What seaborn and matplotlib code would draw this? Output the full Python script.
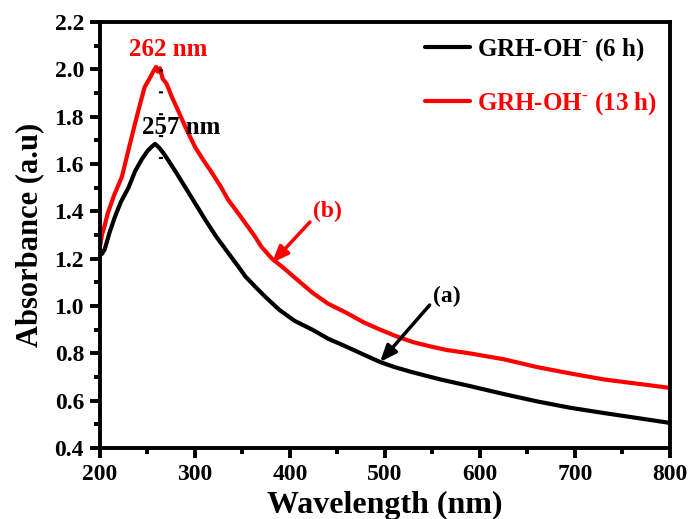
import numpy as np
import pandas as pd
import matplotlib
matplotlib.use("Agg")
import matplotlib.pyplot as plt
from matplotlib.ticker import MultipleLocator
import seaborn as sns

# UV-vis absorbance spectra (wavelength in nm)
wl_6h = [200, 202, 205, 210, 216, 222, 230, 237, 244, 250, 255, 258, 262, 267,
         272, 280, 290, 300, 311, 322, 335, 345, 353, 365, 375, 389, 405, 424,
         440, 460, 480, 495, 510, 529, 558, 589, 625, 660, 695, 730, 765, 800]
abs_6h = [1.24, 1.22, 1.24, 1.31, 1.38, 1.44, 1.50, 1.57, 1.62, 1.655, 1.675, 1.685,
          1.67, 1.645, 1.615, 1.565, 1.50, 1.435, 1.363, 1.295, 1.224, 1.17, 1.125,
          1.075, 1.035, 0.983, 0.937, 0.899, 0.862, 0.827, 0.79, 0.763, 0.742, 0.72,
          0.69, 0.662, 0.628, 0.597, 0.57, 0.548, 0.527, 0.506]

wl_13h = [200, 202, 205, 208, 215, 223, 230, 237, 242, 247, 252, 256, 259, 261,
          263, 266, 270, 276, 282, 290, 300, 309, 318, 327, 335, 344, 353, 362,
          370, 381, 392, 405, 424, 440, 460, 478, 495, 512, 529, 547, 565, 589,
          625, 660, 695, 730, 765, 800]
abs_13h = [1.25, 1.30, 1.34, 1.39, 1.47, 1.545, 1.66, 1.773, 1.85, 1.925, 1.96, 1.99,
           2.01, 1.99, 2.005, 1.96, 1.94, 1.88, 1.828, 1.755, 1.672, 1.615, 1.562,
           1.505, 1.448, 1.40, 1.35, 1.30, 1.25, 1.20, 1.165, 1.12, 1.055, 1.01,
           0.97, 0.93, 0.90, 0.872, 0.848, 0.83, 0.814, 0.80, 0.775, 0.742, 0.715,
           0.69, 0.672, 0.654]

label_6h = r"GRH-OH$^{\text{-}}$ (6 h)"
label_13h = r"GRH-OH$^{\text{-}}$ (13 h)"
x_ticks = [200, 300, 400, 500, 600, 700, 800]
y_ticks = [0.4, 0.6, 0.8, 1.0, 1.2, 1.4, 1.6, 1.8, 2.0, 2.2]

sns.set_style("ticks")
plt.rcParams["font.family"] = ["Liberation Serif", "DejaVu Serif"]
plt.rcParams["font.weight"] = "bold"
plt.rcParams["mathtext.fontset"] = "custom"
plt.rcParams["mathtext.rm"] = "Liberation Serif:bold"
plt.rcParams["mathtext.bf"] = "Liberation Serif:bold"
for key in ["text.color", "axes.labelcolor", "xtick.color", "ytick.color",
            "axes.edgecolor"]:
    plt.rcParams[key] = "black"

df = pd.concat([
    pd.DataFrame({"Wavelength": wl_6h, "Absorbance": abs_6h, "Sample": label_6h}),
    pd.DataFrame({"Wavelength": wl_13h, "Absorbance": abs_13h, "Sample": label_13h}),
])

fig = plt.figure(figsize=(6.93, 5.19), dpi=100)
ax = fig.add_axes([0.1443, 0.1368, 0.8225, 0.8208])

palette = {label_6h: "black", label_13h: "#ff0000"}
sns.lineplot(data=df, x="Wavelength", y="Absorbance", hue="Sample",
             palette=palette, linewidth=3, estimator=None, sort=False, ax=ax)

# peak markers
ax.plot([264, 264], [1.62, 2.07], color="black", lw=3,
        linestyle=(0, (0.5, 4.75)), zorder=3)
ax.text(271.5, 2.082, "262 nm", color="#ff0000", fontsize=18,
        fontweight="bold", ha="center", va="center")
ax.text(285, 1.756, "257 nm", color="black", fontsize=18, fontweight="bold",
        ha="center", va="center")

# curve labels with arrows
ax.annotate("", xy=(381, 1.182), xytext=(421, 1.355),
            arrowprops=dict(arrowstyle="-|>,head_length=1.0,head_width=0.4",
                            color="#ff0000", lw=2.5, shrinkA=0, shrinkB=0))
ax.text(439, 1.40, "(b)", color="#ff0000", fontsize=17, fontweight="bold",
        ha="center", va="center")
ax.annotate("", xy=(494.7, 0.763), xytext=(547, 1.004),
            arrowprops=dict(arrowstyle="-|>,head_length=1.0,head_width=0.4",
                            color="black", lw=2.5, shrinkA=0, shrinkB=0))
ax.text(565, 1.04, "(a)", color="black", fontsize=17, fontweight="bold",
        ha="center", va="center")

ax.set_xlim(200, 800)
ax.set_ylim(0.4, 2.2)
ax.set_xticks(x_ticks)
ax.set_yticks(y_ticks)
ax.set_yticklabels([f"{v:.1f}" for v in y_ticks])
ax.xaxis.set_minor_locator(MultipleLocator(50))
ax.yaxis.set_minor_locator(MultipleLocator(0.1))
ax.tick_params(which="major", direction="out", length=7, width=2.8,
               labelsize=17, pad=4.5, top=False, right=False, colors="black")
ax.tick_params(which="minor", direction="out", length=4, width=2.8,
               top=False, right=False, colors="black")
for lab in ax.get_xticklabels() + ax.get_yticklabels():
    lab.set_fontweight("bold")
for sp in ax.spines.values():
    sp.set_visible(True)
    sp.set_linewidth(2.8)
    sp.set_color("black")

ax.set_xlabel("Wavelength (nm)", fontsize=23, fontweight="bold", labelpad=4.5,
              color="black")
ax.set_ylabel("Absorbance (a.u)", fontsize=22, fontweight="bold", labelpad=7,
              color="black")

leg = ax.legend(loc="upper left", bbox_to_anchor=(0.57, 0.966), frameon=False,
                fontsize=18, handlelength=1.8, handletextpad=0.28,
                labelspacing=1.08, borderpad=0, borderaxespad=0,
                labelcolor="linecolor")
for t in leg.get_texts():
    t.set_fontweight("bold")
for h in leg.get_lines():
    h.set_linewidth(3)

fig.savefig("out.png", dpi=100)
